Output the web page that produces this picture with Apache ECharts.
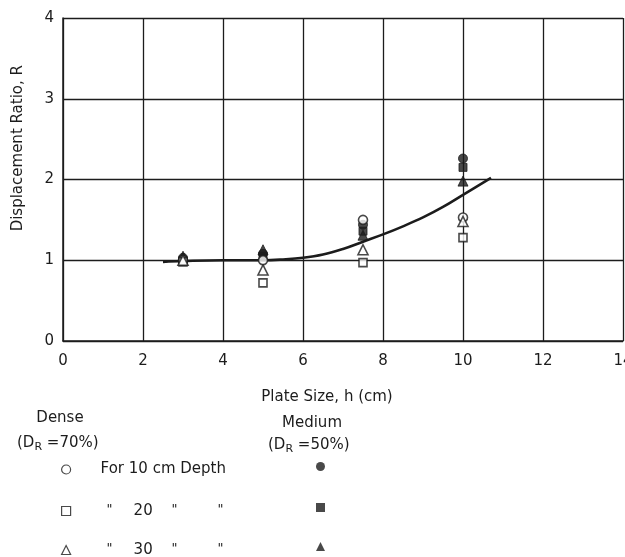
<!DOCTYPE html>
<html>
<head>
<meta charset="utf-8">
<script src="https://cdn.jsdelivr.net/npm/echarts@6/dist/echarts.min.js"></script>
<style>
  html, body { margin: 0; padding: 0; background: #fff; }
  #chart { width: 625px; height: 557px; }
</style>
</head>
<body>
<div id="chart"></div>
<script>
// Plate sizes tested (cm)
const plateSize = [3, 5, 7.5, 10];

// Displacement ratio R, dense sand (DR = 70%), by measurement depth
const dense10 = [1.00, 1.00, 1.50, 1.53];
const dense20 = [0.98, 0.72, 0.97, 1.28];
const dense30 = [1.00, 0.88, 1.13, 1.48];

// Displacement ratio R, medium sand (DR = 50%), by measurement depth
const medium10 = [1.03, 1.08, 1.44, 2.26];
const medium20 = [1.00, 1.05, 1.36, 2.15];
const medium30 = [1.05, 1.13, 1.31, 1.98];

// Hand-fitted trend curve
const curveX = [2.5, 3, 4, 5, 5.5, 6, 6.5, 7, 7.5, 8, 8.5, 9, 9.5, 10, 10.7];
const curveY = [0.98, 0.99, 1.0, 1.0, 1.01, 1.03, 1.07, 1.14, 1.23, 1.32, 1.42, 1.53, 1.66, 1.81, 2.02];

// Axis ticks
const xTicks = [0, 2, 4, 6, 8, 10, 12, 14];
const yTicks = [0, 1, 2, 3, 4];

const FONT = 'DejaVu Sans';
const INK = '#1c1c1c';

const pairs = (xs, ys) => xs.map((x, i) => [x, ys[i]]);

const openStyle = { color: '#ffffff', borderColor: INK, borderWidth: 1.6 };
const fillStyle = { color: INK, borderColor: INK, borderWidth: 1 };

// Legend rows: series name, icon, row top, label
const legendRows = [
  { name: 'Dense 10 cm', icon: 'circle', top: 462, label: '{a|}{t|For 10 cm Depth}' },
  { name: 'Dense 20 cm', icon: 'rect', top: 503, label: '{a|}{q1|"}{n|20}{q2|"}{q3|"}' },
  { name: 'Dense 30 cm', icon: 'triangle', top: 542, label: '{a|}{q1|"}{n|30}{q2|"}{q3|"}' },
  { name: 'Medium 10 cm', icon: 'circle', top: 462, label: '' },
  { name: 'Medium 20 cm', icon: 'rect', top: 503, label: '' },
  { name: 'Medium 30 cm', icon: 'triangle', top: 542, label: '' }
];

const legendRich = {
  a: { width: 25 },
  t: { fontSize: 15, fontFamily: FONT, color: INK },
  q1: { width: 27, fontSize: 13, fontFamily: FONT, color: INK, padding: [0, 0, 3, 6] },
  n: { width: 38, fontSize: 15, fontFamily: FONT, color: INK },
  q2: { width: 46, fontSize: 13, fontFamily: FONT, color: INK, padding: [0, 0, 3, 0] },
  q3: { fontSize: 13, fontFamily: FONT, color: INK, padding: [0, 0, 3, 0] }
};

const legends = legendRows.map(row => {
  const dense = row.name.indexOf('Dense') === 0;
  return {
    orient: 'horizontal',
    left: dense ? 61 : 316,
    top: row.top,
    padding: 0,
    itemWidth: 9,
    itemHeight: 9,
    selectedMode: false,
    data: [{
      name: row.name,
      icon: row.icon,
      itemStyle: dense
        ? { color: '#fff', borderColor: INK, borderWidth: 1.2 }
        : { color: INK, borderColor: INK, borderWidth: 0 }
    }],
    formatter: () => row.label,
    textStyle: { fontFamily: FONT, fontSize: 15, color: INK, rich: legendRich }
  };
});

const chart = echarts.init(document.getElementById('chart'));

chart.setOption({
  animation: false,
  backgroundColor: '#ffffff',
  textStyle: { fontFamily: FONT, color: INK },
  grid: { left: 63, right: 2, top: 18, bottom: 216, containLabel: false, outerBoundsMode: 'none' },
  xAxis: {
    type: 'value',
    min: xTicks[0],
    max: xTicks[xTicks.length - 1],
    interval: 2,
    axisLine: { show: true, lineStyle: { color: INK, width: 1.5 } },
    axisTick: { show: false },
    axisLabel: { margin: 13, fontSize: 15, color: INK, fontFamily: FONT, showMaxLabel: true },
    splitLine: { show: true, lineStyle: { color: INK, width: 1.3 } }
  },
  yAxis: {
    type: 'value',
    min: yTicks[0],
    max: yTicks[yTicks.length - 1],
    interval: 1,
    axisLine: { show: true, lineStyle: { color: INK, width: 1.5 } },
    axisTick: { show: false },
    axisLabel: { margin: 9, fontSize: 15, color: INK, fontFamily: FONT },
    splitLine: { show: true, lineStyle: { color: INK, width: 1.3 } }
  },
  legend: legends,
  graphic: [
    {
      type: 'text', left: 11, top: 65, rotation: Math.PI / 2,
      style: { text: 'Displacement Ratio, R', fontFamily: FONT, fontSize: 15, fill: INK }
    },
    {
      type: 'text', x: 327, y: 397,
      style: { text: 'Plate Size, h (cm)', fontFamily: FONT, fontSize: 15, fill: INK, align: 'center', verticalAlign: 'middle' }
    },
    {
      type: 'text', x: 60, y: 418,
      style: { text: 'Dense', fontFamily: FONT, fontSize: 15, fill: INK, align: 'center', verticalAlign: 'middle' }
    },
    {
      type: 'text', x: 17, y: 433,
      style: {
        text: '(D{s|R} =70%)', fontFamily: FONT, fontSize: 15, fill: INK,
        rich: { s: { fontSize: 11, fontFamily: FONT, fill: INK, padding: [9, 0, 0, 0] } }
      }
    },
    {
      type: 'text', x: 312, y: 423,
      style: { text: 'Medium', fontFamily: FONT, fontSize: 15, fill: INK, align: 'center', verticalAlign: 'middle' }
    },
    {
      type: 'text', x: 268, y: 435,
      style: {
        text: '(D{s|R} =50%)', fontFamily: FONT, fontSize: 15, fill: INK,
        rich: { s: { fontSize: 11, fontFamily: FONT, fill: INK, padding: [9, 0, 0, 0] } }
      }
    }
  ],
  series: [
    {
      name: 'Trend',
      type: 'line',
      data: pairs(curveX, curveY),
      smooth: 0.4,
      showSymbol: false,
      symbol: 'none',
      lineStyle: { color: INK, width: 2.6 },
      z: 2,
      silent: true
    },
    { name: 'Medium 10 cm', type: 'scatter', symbol: 'circle', symbolSize: 9, data: pairs(plateSize, medium10), itemStyle: fillStyle, z: 3 },
    { name: 'Medium 20 cm', type: 'scatter', symbol: 'rect', symbolSize: 8, data: pairs(plateSize, medium20), itemStyle: fillStyle, z: 3 },
    { name: 'Medium 30 cm', type: 'scatter', symbol: 'triangle', symbolSize: 10, data: pairs(plateSize, medium30), itemStyle: fillStyle, z: 3 },
    { name: 'Dense 10 cm', type: 'scatter', symbol: 'circle', symbolSize: 9, data: pairs(plateSize, dense10), itemStyle: openStyle, z: 4 },
    { name: 'Dense 20 cm', type: 'scatter', symbol: 'rect', symbolSize: 8, data: pairs(plateSize, dense20), itemStyle: openStyle, z: 4 },
    { name: 'Dense 30 cm', type: 'scatter', symbol: 'triangle', symbolSize: 10, data: pairs(plateSize, dense30), itemStyle: openStyle, z: 4 }
  ]
});
</script>
</body>
</html>
